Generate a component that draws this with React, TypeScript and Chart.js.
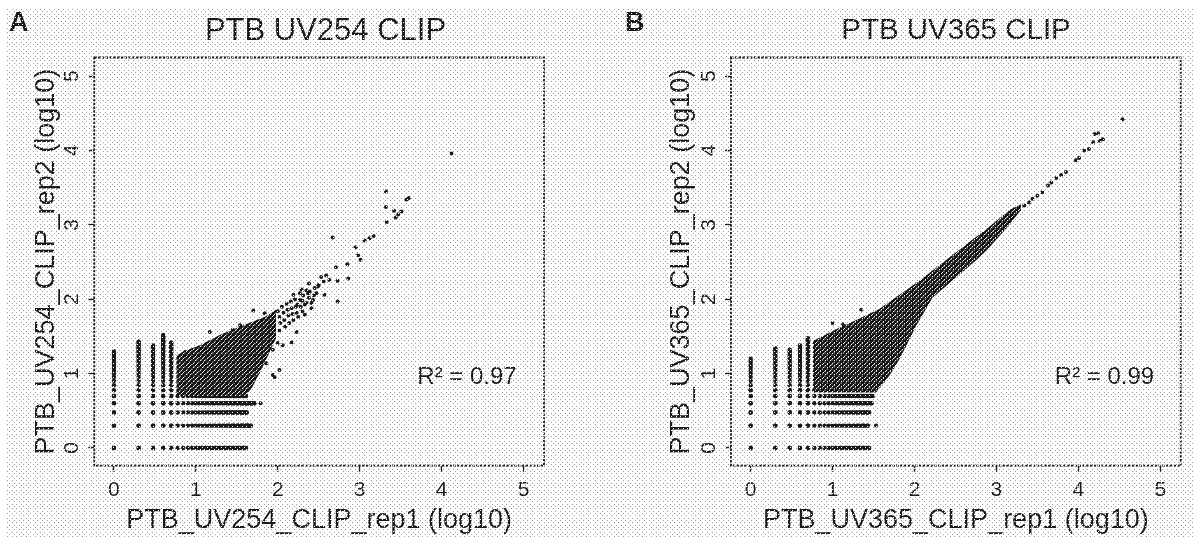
import React, { useEffect, useRef } from "react";
import { Chart, registerables } from "chart.js";

Chart.register(...registerables);

const tickValues = [0, 1, 2, 3, 4, 5];
const countLevels = [0, 0.301, 0.477, 0.602, 0.699, 0.778, 0.845, 0.903, 0.954, 1, 1.041, 1.079, 1.114, 1.146, 1.176, 1.204, 1.23, 1.255, 1.279, 1.301, 1.322, 1.342, 1.362, 1.38, 1.398, 1.415, 1.431, 1.447, 1.462, 1.477, 1.491, 1.505, 1.519, 1.531, 1.544, 1.556, 1.568, 1.58, 1.591, 1.602, 1.613, 1.623, 1.633, 1.643, 1.653, 1.663, 1.672, 1.681, 1.69, 1.699, 1.708, 1.716];

// [x level, highest y seen in that column]
const columnsA = [[0, 1.32], [0.301, 1.44], [0.477, 1.38], [0.602, 1.52], [0.699, 1.42]];
const columnsB = [[0, 1.22], [0.301, 1.36], [0.477, 1.34], [0.602, 1.38], [0.699, 1.48]];
// [y level, furthest x seen in that row]
const rowsA = [[0, 1.62], [0.301, 1.68], [0.477, 1.63], [0.602, 1.72], [0.699, 1.62]];
const rowsB = [[0, 1.45], [0.301, 1.44], [0.477, 1.46], [0.602, 1.48], [0.699, 1.5], [0.778, 1.52]];

// Outline of the saturated cloud
const cloudTopA = [[0.76, 1.24], [0.85, 1.3], [1.05, 1.38], [1.29, 1.52], [1.58, 1.65], [1.86, 1.77], [1.98, 1.86]];
const cloudBottomA = [[0.76, 0.7], [1.6, 0.7], [1.68, 0.8], [1.82, 1.1], [1.93, 1.36], [1.98, 1.48]];
const cloudTopB = [[0.76, 1.44], [1.05, 1.6], [1.33, 1.74], [1.57, 1.87], [2.06, 2.25], [2.39, 2.53], [2.67, 2.77], [2.91, 2.97], [3.16, 3.2], [3.3, 3.28]];
const cloudBottomB = [[0.76, 0.75], [1.53, 0.75], [1.7, 0.98], [1.82, 1.2], [2.02, 1.64], [2.22, 2.02], [2.46, 2.25], [2.75, 2.52], [2.9, 2.68], [3.12, 2.95], [3.3, 3.2]];

const strayA = [[4.12, 3.96], [3.32, 3.45], [3.32, 3.24], [3.6, 3.36], [3.57, 3.34], [3.42, 3.19], [3.47, 3.14], [3.44, 3.1], [3.51, 3.18], [3.33, 3.04], [3.17, 2.85], [3.06, 2.79], [3.12, 2.82], [2.95, 2.7], [2.98, 2.59], [3.01, 2.53], [2.67, 2.83], [2.85, 2.47], [2.71, 2.43], [2.86, 2.28], [2.73, 2.25], [2.73, 1.97], [2.57, 2.06], [2.38, 2.21], [2.53, 2.3], [2.63, 2.26], [2.59, 2.32], [2.56, 2.24], [2.5, 2.19], [2.19, 2.06], [2.27, 2.08], [2.37, 2.08], [2.45, 2.15], [2.49, 2.17], [2.35, 1.95], [2.43, 1.99], [2.33, 1.79], [2.41, 1.88], [2.3, 1.98], [2.38, 2.02], [2.44, 2.05], [2.24, 1.93], [1.7, 1.85], [1.84, 1.81], [1.79, 0.6], [1.94, 0.98], [2.02, 1.05], [1.96, 0.95], [1.86, 1.14], [2.23, 1.56], [2.17, 1.42], [2.06, 1.38], [1.94, 1.32], [2.0, 1.41], [0.7, 1.42], [1.17, 1.56], [0.87, 1.29], [1.45, 1.59], [1.54, 1.65],
  [2.0, 1.84], [2.02, 1.76], [2.03, 1.68], [2.02, 1.58], [2.05, 1.9], [2.07, 1.82], [2.08, 1.72], [2.09, 1.63], [2.11, 1.94], [2.12, 1.86], [2.13, 1.78], [2.14, 1.68], [2.16, 1.97], [2.17, 1.88], [2.18, 1.8], [2.19, 1.72], [2.21, 2.0], [2.22, 1.9], [2.23, 1.82], [2.25, 1.76], [2.27, 1.99], [2.28, 1.9], [2.3, 1.84], [2.31, 2.05], [2.33, 1.93], [2.35, 2.12], [2.39, 2.1], [2.41, 1.95], [2.47, 2.08], [2.29, 2.13]];
const strayB = [[4.54, 4.42], [4.24, 4.23], [4.2, 4.22], [4.3, 4.15], [4.26, 4.13], [4.18, 4.11], [4.13, 4.02], [4.07, 4.0], [4.01, 3.9], [3.97, 3.87], [3.85, 3.71], [3.79, 3.67], [3.73, 3.63], [3.67, 3.57], [3.63, 3.53], [3.56, 3.44], [3.5, 3.39], [3.44, 3.35], [3.4, 3.3], [3.34, 3.26], [1.53, 0.301], [1.35, 1.86], [1.0, 1.68], [1.62, 0.95], [1.13, 1.66]];

const titles = ["PTB UV254 CLIP", "PTB UV365 CLIP"];
const xTitles = ["PTB_UV254_CLIP_rep1 (log10)", "PTB_UV365_CLIP_rep1 (log10)"];
const yTitles = ["PTB_UV254_CLIP_rep2 (log10)", "PTB_UV365_CLIP_rep2 (log10)"];
const r2Labels = ["R² = 0.97", "R² = 0.99"];

const FONT = "'Liberation Sans', Arial, sans-serif";
const INK = "#1a1a1a";

const toPts = (p: number[][]) => p.map(([x, y]) => ({ x, y }));
const stripPoints = (cols: number[][], rows: number[][]) => [
  ...cols.flatMap(([x, top]) => countLevels.filter((l) => l <= top).map((y) => ({ x, y }))),
  ...rows.flatMap(([y, end]) => countLevels.filter((l) => l <= end).map((x) => ({ x, y }))),
];

function makeCloudFill(ctx: CanvasRenderingContext2D) {
  const tile = document.createElement("canvas");
  tile.width = 14;
  tile.height = 14;
  const t = tile.getContext("2d")!;
  t.fillStyle = "#131313";
  t.fillRect(0, 0, 14, 14);
  t.fillStyle = "#ffffff";
  const pitch = 14 / 3;
  for (let r = 0; r < 6; r++) {
    for (let c = 0; c < 3; c++) {
      t.fillRect(c * pitch + (r % 2 ? pitch / 2 : 0), (r * pitch) / 2, 1.05, 1.05);
    }
  }
  return ctx.createPattern(tile, "repeat")!;
}

function Panel({ i, left, width, yWidth, padRight, titlePad, titleSize, cols, rows, top, bottom, stray, labelAt }: any) {
  const ref = useRef<HTMLCanvasElement>(null);
  useEffect(() => {
    const annotate = {
      id: "annotate",
      afterDatasetsDraw(c: any) {
        const { ctx, chartArea: a, scales } = c;
        ctx.save();
        ctx.strokeStyle = INK;
        ctx.lineWidth = 1.8;
        ctx.setLineDash([2.4, 1.4]);
        ctx.strokeRect(a.left, a.top, a.right - a.left, a.bottom - a.top);
        ctx.setLineDash([]);
        ctx.fillStyle = INK;
        ctx.font = `24px ${FONT}`;
        ctx.textAlign = "center";
        ctx.textBaseline = "middle";
        ctx.fillText(r2Labels[i], scales.x.getPixelForValue(labelAt.x), scales.y.getPixelForValue(labelAt.y));
        ctx.restore();
      },
    };
    const canvas = ref.current!;
    const cloudFill = makeCloudFill(canvas.getContext("2d")!);
    const mark = { backgroundColor: INK, borderColor: INK, borderWidth: 0, pointStyle: "circle" };
    const chart = new Chart(canvas, {
      type: "scatter",
      data: {
        datasets: [
          { data: toPts(top), showLine: true, pointRadius: 0, borderWidth: 0, backgroundColor: cloudFill, borderColor: INK, fill: "+1", tension: 0 },
          { data: toPts(bottom), showLine: true, pointRadius: 0, borderWidth: 0, backgroundColor: cloudFill, borderColor: INK, fill: false, tension: 0 },
          { data: stripPoints(cols, rows), pointRadius: 2.2, ...mark },
          { data: toPts(stray), pointRadius: 2, ...mark },
        ],
      } as any,
      plugins: [annotate],
      options: {
        responsive: false,
        animation: false,
        devicePixelRatio: 1,
        plugins: {
          legend: { display: false },
          tooltip: { enabled: false },
          title: {
            display: true,
            text: titles[i],
            color: INK,
            font: { family: FONT, size: titleSize, weight: "normal", lineHeight: 1.2 },
            padding: { top: 13, bottom: 57.5 - 13 - titleSize * 1.2 },
          },
        },
        scales: {
          x: {
            type: "linear",
            min: -0.24,
            max: 5.25,
            afterBuildTicks: (s: any) => { s.ticks = tickValues.map((value) => ({ value })); },
            afterFit: (s: any) => { s.height = 71.3; },
            grid: { drawOnChartArea: false, color: INK, tickLength: 6, tickWidth: 1.4 },
            border: { display: false },
            ticks: { color: INK, font: { family: FONT, size: 21 }, padding: 6, maxRotation: 0, autoSkip: false, callback: (v: any) => String(v) },
            title: { display: true, text: xTitles[i], color: INK, font: { family: FONT, size: 27, lineHeight: 1.2 }, padding: { top: 5, bottom: 0 } },
          },
          y: {
            type: "linear",
            min: -0.238,
            max: 5.25,
            afterBuildTicks: (s: any) => { s.ticks = tickValues.map((value) => ({ value })); },
            afterFit: (s: any) => { s.width = yWidth; },
            grid: { drawOnChartArea: false, color: INK, tickLength: 6, tickWidth: 1.4 },
            border: { display: false },
            ticks: { color: INK, font: { family: FONT, size: 21 }, padding: 10, minRotation: 90, maxRotation: 90, crossAlign: "center", autoSkip: false, callback: (v: any) => String(v) },
            title: { display: true, text: yTitles[i], color: INK, font: { family: FONT, size: 27, lineHeight: 1.2 }, padding: { top: titlePad, bottom: 0 } },
          },
          spacer: {
            type: "linear",
            position: "right",
            display: true,
            afterFit: (s: any) => { s.width = padRight; },
            grid: { display: false },
            border: { display: false },
            ticks: { display: false },
          },
        },
      } as any,
    });
    return () => chart.destroy();
  }, []);
  return <canvas ref={ref} width={width} height={537} style={{ position: "absolute", left, top: 0, width, height: 537 }} />;
}

function Screen({ color, offset, zIndex }: { color: string; offset: number; zIndex: number }) {
  const ref = useRef<HTMLCanvasElement>(null);
  useEffect(() => {
    const ctx = ref.current!.getContext("2d")!;
    ctx.fillStyle = color;
    const pitch = 14 / 3;
    let row = 0;
    for (let y = 9 + offset; y < 537; y += pitch / 2, row++) {
      for (let x = 7 + offset + (row % 2 ? pitch / 2 : 0); x < 1193; x += pitch) {
        ctx.fillRect(Math.round(x), Math.round(y), 1, 1);
      }
    }
  }, []);
  return <canvas ref={ref} width={1193} height={537} style={{ position: "absolute", left: 0, top: 0, zIndex, pointerEvents: "none" }} />;
}

const letterStyle: React.CSSProperties = { position: "absolute", top: 9, font: `bold 27px ${FONT}`, lineHeight: "27px", color: INK, zIndex: 2 };

export default function App() {
  return (
    <div style={{ position: "fixed", left: 0, top: 0, width: 1193, height: 537, overflow: "hidden", background: "#fff" }}>
      <Screen color="#9c9c9c" offset={0} zIndex={0} />
      <div style={{ position: "absolute", inset: 0, zIndex: 1 }}>
        <Panel i={0} left={0} width={651} yWidth={94.3} padRight={107} titlePad={30} titleSize={31} cols={columnsA} rows={rowsA} top={cloudTopA} bottom={cloudBottomA} stray={strayA} labelAt={{ x: 4.31, y: 0.95 }} />
        <Panel i={1} left={640} width={632} yWidth={91} padRight={91.3} titlePad={25} titleSize={29.5} cols={columnsB} rows={rowsB} top={cloudTopB} bottom={cloudBottomB} stray={strayB} labelAt={{ x: 4.32, y: 0.95 }} />
      </div>
      <span style={{ ...letterStyle, left: 9 }}>A</span>
      <span style={{ ...letterStyle, left: 625 }}>B</span>
      <Screen color="#ffffff" offset={1.17} zIndex={3} />
    </div>
  );
}
